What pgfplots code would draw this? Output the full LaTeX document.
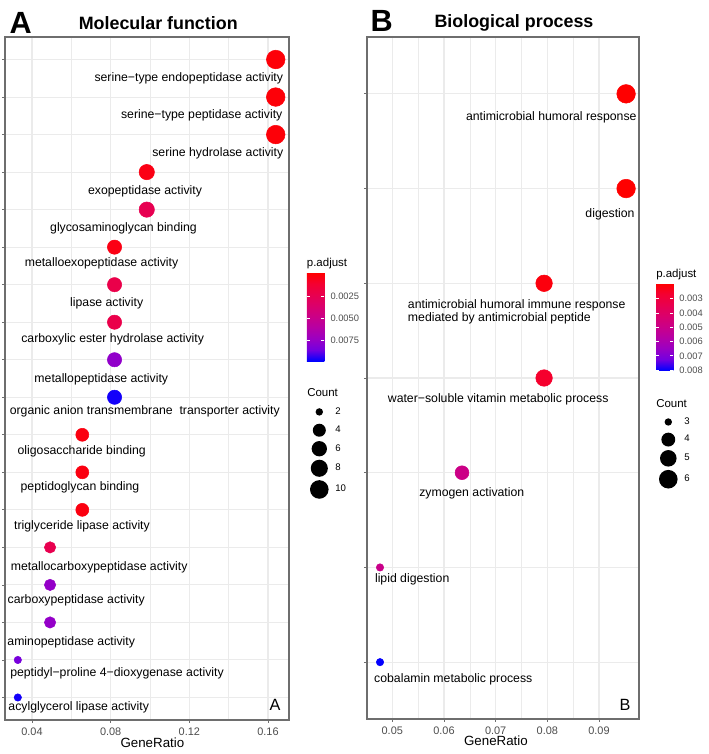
\documentclass[border=0pt]{standalone}
\usepackage{fontspec}
\setmainfont{Liberation Sans}
\usepackage{pgfplots}
\pgfplotsset{compat=1.18}
\usepackage{pgfplotstable}
\definecolor{gridc}{HTML}{EBEBEB}
\definecolor{bordc}{HTML}{6E6E6E}
\definecolor{tickc}{HTML}{4D4D4D}
\tikzset{lbl/.style={font=\fontsize{9.2}{9.8}\selectfont, inner sep=0pt, anchor=center}}
\pgfplotsset{
  /pgf/number format/assume math mode=true,
  colormap={padj}{rgb255(0cm)=(255,0,0); rgb255(1cm)=(244,0,49); rgb255(2cm)=(232,0,79); rgb255(3cm)=(218,0,108); rgb255(4cm)=(202,0,136); rgb255(5cm)=(181,0,165); rgb255(6cm)=(154,0,195); rgb255(7cm)=(115,0,224); rgb255(8cm)=(0,0,255)},
  dotplot/.style={
    scale only axis, anchor=south west,
    scaled ticks=false,
    axis line style={draw=bordc, line width=0.9pt},
    xmajorgrids=true, ymajorgrids=true, xminorgrids=true,
    minor x tick num=1,
    major grid style={draw=gridc, line width=0.8pt},
    minor grid style={draw=gridc, line width=0.45pt},
    tick align=outside, major tick length=2pt, minor tick length=0pt,
    tick style={draw=bordc, line width=0.6pt},
    xtick pos=bottom, ytick pos=left,
    yticklabels={},
    xticklabel style={font=\fontsize{8.2}{9}\selectfont, text=tickc, /pgf/number format/fixed, /pgf/number format/precision=2},
    xlabel style={font=\fontsize{10}{12}\selectfont, anchor=center},
    legend cell align=left,
    legend style={draw=none, fill=none, inner sep=0pt, row sep=0pt, column sep=3pt, font=\fontsize{7.2}{8}\selectfont, anchor=north west},
  },
  cbar/.style={
    scale only axis, scaled ticks=false,
    y dir=reverse,
    ytick pos=both, yticklabel pos=right,
    major tick length=2.6pt, tick align=inside,
    tick style={draw=white, line width=0.6pt},
    axis line style={draw=none},
  },
}
\pgfplotstableread{
y x count padj
18 0.16393 10 0.00001
17 0.16393 10 0.00001
16 0.16393 10 0.00001
15 0.09836 6 0.0003
14 0.09836 6 0.0024
13 0.08197 5 0.0003
12 0.08197 5 0.0021
11 0.08197 5 0.0021
10 0.08197 5 0.0076
9 0.08197 5 0.0096
8 0.06557 4 0.0002
7 0.06557 4 0.0002
6 0.06557 4 0.0002
5 0.04918 3 0.0023
4 0.04918 3 0.0075
3 0.04918 3 0.0075
2 0.03279 2 0.0084
1 0.03279 2 0.0096
}\dataA
\pgfplotstableread{
y x count padj
7 0.09524 6 0.0019
6 0.09524 6 0.0019
5 0.07937 5 0.0021
4 0.07937 5 0.0026
3 0.06349 4 0.0049
2 0.04762 3 0.0050
1 0.04762 3 0.0080
}\dataB
\begin{document}
\begin{tikzpicture}
\path[use as bounding box] (0,0) rectangle (531pt,565.5pt);
% ---------------- Panel A
\begin{axis}[dotplot,
  at={(3.75pt,25.5pt)}, width=213pt, height=512.25pt,
  xmin=0.02627, xmax=0.17068, ymin=0.4, ymax=18.6,
  xtick={0.04,0.08,0.12,0.16},
  ytick={1,...,18},
  xlabel={GeneRatio},
  xlabel style={at={(axis description cs:0.519,-0.0337)}},
  colormap name=padj,
  point meta min=-0.0002, point meta max=0.0098,
  colorbar,
  colorbar style={cbar,
    at={(parent axis.north east)}, anchor=north west,
    xshift=4.96pt, yshift=-176.8pt,
    width=13.1pt, height=66.2pt,
    ytick={0.0025,0.005,0.0075},
    yticklabel style={font=\fontsize{7}{8}\selectfont, text=tickc, /pgf/number format/fixed, /pgf/number format/precision=4, /pgf/number format/fixed zerofill, xshift=1pt},
  },
  legend style={at={(1.0729,0.4649)}},
]
\addplot[scatter, only marks, mark=*, forget plot, point meta=explicit,
  scatter/use mapped color={draw=mapped color, fill=mapped color},
  visualization depends on={\thisrow{count} \as \cnt},
  scatter/@pre marker code/.append style={/tikz/mark size={0.75*(3.7+5.6*sqrt((\cnt-2)/8))}}]
  table[x=x, y=y, meta=padj] {\dataA};
\addlegendimage{legend image code/.code={\path[draw=none,fill=none] (0,-6.875pt) rectangle (14pt,6.875pt); \fill[black,draw=none] (7pt,0) circle (2.775pt);}}
\addlegendentry{2}
\addlegendimage{legend image code/.code={\path[draw=none,fill=none] (0,-6.875pt) rectangle (14pt,6.875pt); \fill[black,draw=none] (7pt,0) circle (4.875pt);}}
\addlegendentry{4}
\addlegendimage{legend image code/.code={\path[draw=none,fill=none] (0,-7pt) rectangle (14pt,7pt); \fill[black,draw=none] (7pt,0) circle (5.745pt);}}
\addlegendentry{6}
\addlegendimage{legend image code/.code={\path[draw=none,fill=none] (0,-7.66pt) rectangle (14pt,7.66pt); \fill[black,draw=none] (7pt,0) circle (6.41pt);}}
\addlegendentry{8}
\addlegendimage{legend image code/.code={\path[draw=none,fill=none] (0,-8.22pt) rectangle (14pt,8.22pt); \fill[black,draw=none] (7pt,0) circle (6.975pt);}}
\addlegendentry{10}
\node[lbl] at (axis cs:0.11973,17.493) {serine−type endopeptidase activity};
\node[lbl] at (axis cs:0.12629,16.515) {serine−type peptidase activity};
\node[lbl] at (axis cs:0.13447,15.501) {serine hydrolase activity};
\node[lbl] at (axis cs:0.09746,14.488) {exopeptidase activity};
\node[lbl] at (axis cs:0.08652,13.512) {glycosaminoglycan binding};
\node[lbl] at (axis cs:0.07534,12.56) {metalloexopeptidase activity};
\node[lbl] at (axis cs:0.07798,11.512) {lipase activity};
\node[lbl] at (axis cs:0.08103,10.552) {carboxylic ester hydrolase activity};
\node[lbl] at (axis cs:0.07524,9.467) {metallopeptidase activity};
\node[lbl] at (axis cs:0.09736,8.621) {organic anion transmembrane~~transporter activity};
\node[lbl] at (axis cs:0.06527,7.555) {oligosaccharide binding};
\node[lbl] at (axis cs:0.06441,6.595) {peptidoglycan binding};
\node[lbl] at (axis cs:0.06542,5.573) {triglyceride lipase activity};
\node[lbl] at (axis cs:0.07417,4.461) {metallocarboxypeptidase activity};
\node[lbl] at (axis cs:0.06247,3.6) {carboxypeptidase activity};
\node[lbl] at (axis cs:0.05993,2.461) {aminopeptidase activity};
\node[lbl] at (axis cs:0.08322,1.645) {peptidyl−proline 4−dioxygenase activity};
\node[lbl] at (axis cs:0.06375,0.728) {acylglycerol lipase activity};
\end{axis}
% ---------------- Panel B
\begin{axis}[dotplot,
  at={(275.25pt,26.25pt)}, width=204pt, height=511.5pt,
  xmin=0.045104, xmax=0.09774, ymin=0.4, ymax=7.6,
  xtick={0.05,0.06,0.07,0.08,0.09},
  ytick={1,...,7},
  xlabel={GeneRatio},
  xlabel style={at={(axis description cs:0.474,-0.0323)}},
  colormap name=padj,
  point meta min=0.0019, point meta max=0.00802,
  colorbar,
  colorbar style={cbar,
    at={(parent axis.north east)}, anchor=north west,
    xshift=4.21pt, yshift=-184.5pt,
    width=13pt, height=65.5pt,
    ytick={0.003,0.004,0.005,0.006,0.007,0.008},
    yticklabel style={font=\fontsize{7}{8}\selectfont, text=tickc, /pgf/number format/fixed, /pgf/number format/precision=3, /pgf/number format/fixed zerofill, xshift=1pt},
  },
  legend style={at={(1.0724,0.4488)}},
]
\addplot[scatter, only marks, mark=*, forget plot, point meta=explicit,
  scatter/use mapped color={draw=mapped color, fill=mapped color},
  visualization depends on={\thisrow{count} \as \cnt},
  scatter/@pre marker code/.append style={/tikz/mark size={0.75*(3.7+5.6*sqrt((\cnt-3)/3))}}]
  table[x=x, y=y, meta=padj] {\dataB};
\addlegendimage{legend image code/.code={\path[draw=none,fill=none] (0,-6.6pt) rectangle (14pt,6.6pt); \fill[black,draw=none] (7pt,0) circle (2.775pt);}}
\addlegendentry{3}
\addlegendimage{legend image code/.code={\path[draw=none,fill=none] (0,-6.6pt) rectangle (14pt,6.6pt); \fill[black,draw=none] (7pt,0) circle (5.2pt);}}
\addlegendentry{4}
\addlegendimage{legend image code/.code={\path[draw=none,fill=none] (0,-7.45pt) rectangle (14pt,7.45pt); \fill[black,draw=none] (7pt,0) circle (6.204pt);}}
\addlegendentry{5}
\addlegendimage{legend image code/.code={\path[draw=none,fill=none] (0,-8.22pt) rectangle (14pt,8.22pt); \fill[black,draw=none] (7pt,0) circle (6.975pt);}}
\addlegendentry{6}
\node[lbl] at (axis cs:0.08077,6.757) {antimicrobial humoral response};
\node[lbl] at (axis cs:0.09213,5.727) {digestion};
\node[lbl, anchor=west, align=left] at (axis cs:0.05298,4.700) {antimicrobial humoral immune response\\mediated by antimicrobial peptide};
\node[lbl] at (axis cs:0.07049,3.776) {water−soluble vitamin metabolic process};
\node[lbl] at (axis cs:0.06538,2.785) {zymogen activation};
\node[lbl] at (axis cs:0.05385,1.871) {lipid digestion};
\node[lbl] at (axis cs:0.0618,0.816) {cobalamin metabolic process};
\end{axis}
% ---------------- titles, letters, legend titles
\node[font=\fontsize{23}{25}\bfseries\selectfont, inner sep=0pt] at (15.6pt,548.6pt) {A};
\node[font=\fontsize{23}{25}\bfseries\selectfont, inner sep=0pt] at (286.3pt,549.75pt) {B};
\node[font=\fontsize{13.4}{15}\bfseries\selectfont, inner sep=0pt] at (118.7pt,548.25pt) {Molecular function};
\node[font=\fontsize{13.4}{15}\bfseries\selectfont, inner sep=0pt] at (385.5pt,548.25pt) {Biological process};
\node[font=\fontsize{12.2}{14}\selectfont, inner sep=0pt] at (206.25pt,36.75pt) {A};
\node[font=\fontsize{12.2}{14}\selectfont, inner sep=0pt] at (468.75pt,36.75pt) {B};
\node[font=\fontsize{8.6}{10}\selectfont, inner sep=0pt, anchor=west] at (230pt,367.5pt) {p.adjust};
\node[font=\fontsize{8.6}{10}\selectfont, inner sep=0pt, anchor=west] at (492pt,359.6pt) {p.adjust};
\node[font=\fontsize{8.6}{10}\selectfont, inner sep=0pt, anchor=west] at (230.25pt,270.75pt) {Count};
\node[font=\fontsize{8.6}{10}\selectfont, inner sep=0pt, anchor=west] at (492pt,263pt) {Count};
\end{tikzpicture}
\end{document}
